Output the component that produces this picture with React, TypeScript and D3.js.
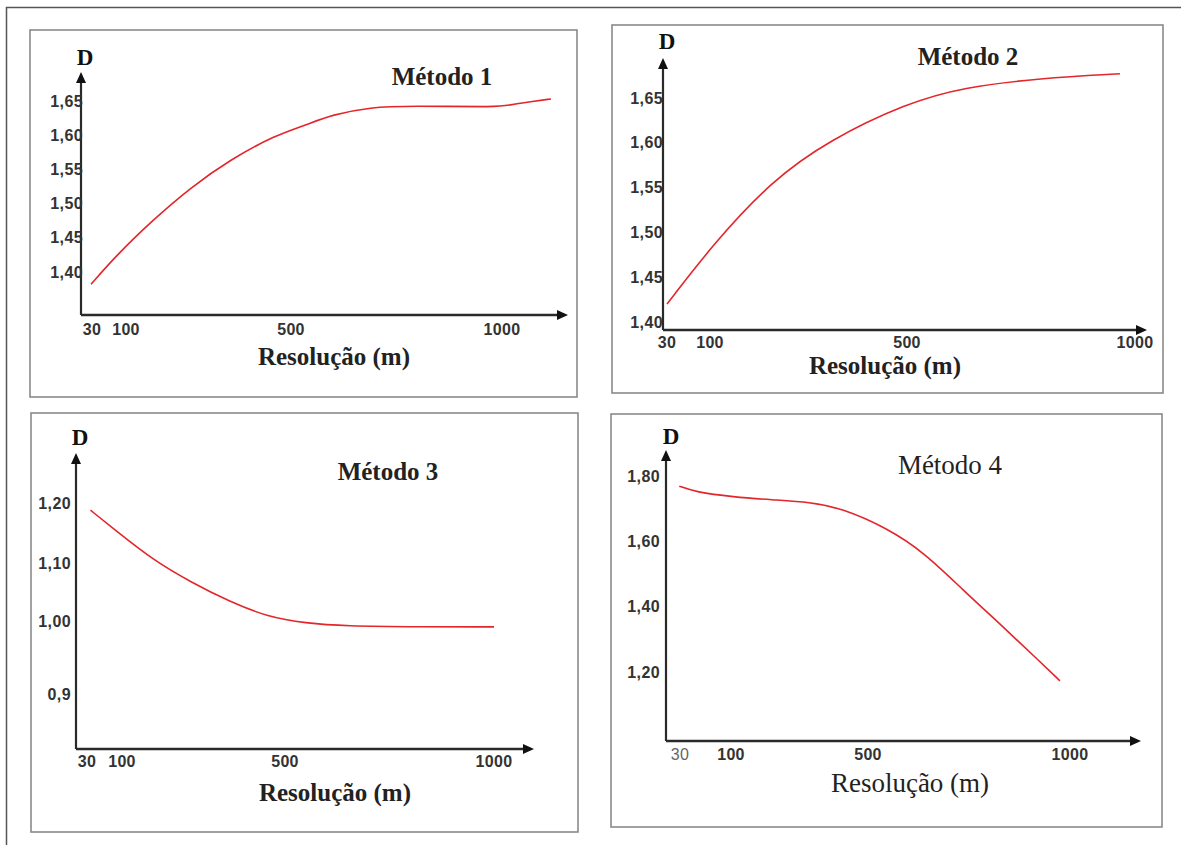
import React from "react";
import * as d3 from "d3";

// x axis: resolution in metres (same ticks on every panel)
const resTicks = [30, 100, 500, 1000];

// Método 1
const m1Res = [28, 77, 165, 258, 352, 462, 536, 597, 689, 779, 997, 1014, 1069, 1116];
const m1D = [1.382, 1.422, 1.476, 1.524, 1.564, 1.6, 1.615, 1.63, 1.641, 1.643, 1.641, 1.644, 1.649, 1.653];
const m1Ticks = [1.4, 1.45, 1.5, 1.55, 1.6, 1.65];
const m1Labels = ["1,40", "1,45", "1,50", "1,55", "1,60", "1,65"];

// Método 2
const m2Res = [30, 108, 226, 342, 498, 623, 792, 967];
const m2D = [1.42, 1.488, 1.558, 1.603, 1.644, 1.662, 1.672, 1.677];
const m2Ticks = [1.4, 1.45, 1.5, 1.55, 1.6, 1.65];
const m2Labels = ["1,40", "1,45", "1,50", "1,55", "1,60", "1,65"];

// Método 3
const m3Res = [37, 86, 176, 269, 365, 458, 550, 641, 825, 1000];
const m3D = [1.188, 1.155, 1.105, 1.067, 1.033, 1.007, 0.997, 0.993, 0.992, 0.992];
const m3Ticks = [0.9, 1.0, 1.1, 1.2];
const m3Labels = ["0,9", "1,00", "1,10", "1,20"];

// Método 4
const m4Res = [29, 51, 106, 220, 331, 421, 547, 641, 735, 832, 926, 975];
const m4D = [1.769, 1.751, 1.736, 1.727, 1.72, 1.702, 1.641, 1.564, 1.451, 1.341, 1.231, 1.173];
const m4Ticks = [1.2, 1.4, 1.6, 1.8];
const m4Labels = ["1,20", "1,40", "1,60", "1,80"];

const serif = "'Liberation Serif', 'Times New Roman', serif";
const sans = "'Liberation Sans', Arial, sans-serif";

// layout of each panel (pixels)
const panels = [
  {
    title: "Método 1", res: m1Res, d: m1D, ticks: m1Ticks, labels: m1Labels,
    box: [30, 30, 577, 397], ax: 81, ay: 315, top: 72, right: 568,
    yDomain: [1.4, 1.65], yRange: [272, 101], xRange: [92, 126, 291, 502],
    labelEnd: 83, dPos: [85, 65], titlePos: [442, 85], resPos: [334, 365], xLabY: 335,
    bold: true, light30: false,
  },
  {
    title: "Método 2", res: m2Res, d: m2D, ticks: m2Ticks, labels: m2Labels,
    box: [612, 25, 1163, 393], ax: 663, ay: 330, top: 58, right: 1147,
    yDomain: [1.4, 1.65], yRange: [322, 98], xRange: [667, 710, 907, 1135],
    labelEnd: 663, dPos: [667, 49], titlePos: [968, 65], resPos: [885, 374], xLabY: 348,
    bold: true, light30: false,
  },
  {
    title: "Método 3", res: m3Res, d: m3D, ticks: m3Ticks, labels: m3Labels,
    box: [31, 413, 578, 832], ax: 76, ay: 749, top: 453, right: 534,
    yDomain: [0.9, 1.0, 1.1, 1.2], yRange: [694, 621, 563, 503], xRange: [87, 122, 285, 494],
    labelEnd: 71, dPos: [80, 445], titlePos: [388, 480], resPos: [335, 801], xLabY: 767,
    bold: true, light30: false,
  },
  {
    title: "Método 4", res: m4Res, d: m4D, ticks: m4Ticks, labels: m4Labels,
    box: [611, 414, 1162, 827], ax: 666, ay: 741, top: 450, right: 1141,
    yDomain: [1.2, 1.8], yRange: [672, 476], xRange: [680, 731, 868, 1070],
    labelEnd: 660, dPos: [671, 444], titlePos: [950, 474], resPos: [910, 792], xLabY: 760,
    bold: false, light30: true,
  },
];

const Panel = ({ p }: { p: any }) => {
  const x = d3.scaleLinear().domain(resTicks).range(p.xRange);
  const y = d3.scaleLinear().domain(p.yDomain).range(p.yRange);
  const line = d3
    .line<number>()
    .x((_, i) => x(p.res[i]))
    .y((v) => y(v))
    .curve(d3.curveBasis);
  const [x0, y0, x1, y1] = p.box;
  const weight = p.bold ? "bold" : "normal";
  const big = p.bold ? 25 : 27;

  return (
    <g>
      <rect x={x0} y={y0} width={x1 - x0} height={y1 - y0} fill="white" stroke="#8a8a8a" strokeWidth={1.6} />
      {/* axes with arrow heads */}
      <line x1={p.ax} y1={p.ay} x2={p.ax} y2={p.top + 8} stroke="#2a2a2a" strokeWidth={2.2} />
      <line x1={p.ax} y1={p.ay} x2={p.right - 8} y2={p.ay} stroke="#2a2a2a" strokeWidth={2.4} />
      <path d={`M${p.ax},${p.top} L${p.ax - 5},${p.top + 11} L${p.ax + 5},${p.top + 11} Z`} fill="#111" />
      <path d={`M${p.right},${p.ay} L${p.right - 11},${p.ay - 5} L${p.right - 11},${p.ay + 5} Z`} fill="#111" />
      <text x={p.dPos[0]} y={p.dPos[1]} textAnchor="middle" fontFamily={serif} fontWeight="bold" fontSize={23} fill="#111">D</text>
      {/* y tick labels */}
      {p.ticks.map((t: number, i: number) => (
        <text key={t} x={p.labelEnd} y={y(t)} dy="0.35em" textAnchor="end" fontFamily={sans} fontWeight="bold"
          fontSize={16} letterSpacing={0.4} fill="#333">{p.labels[i]}</text>
      ))}
      {/* x tick labels */}
      {resTicks.map((t) => (
        <text key={t} x={x(t)} y={p.xLabY} textAnchor="middle" fontFamily={sans}
          fontWeight={p.light30 && t === 30 ? "normal" : "bold"} fontSize={16} letterSpacing={0.3}
          fill={p.light30 && t === 30 ? "#666" : "#333"}>{t}</text>
      ))}
      <path d={line(p.d) || ""} fill="none" stroke="#e3262b" strokeWidth={1.6} />
      <text x={p.titlePos[0]} y={p.titlePos[1]} textAnchor="middle" fontFamily={serif} fontWeight={weight}
        fontSize={big} fill="#222">{p.title}</text>
      <text x={p.resPos[0]} y={p.resPos[1]} textAnchor="middle" fontFamily={serif} fontWeight={weight}
        fontSize={big} fill="#222">Resolução (m)</text>
    </g>
  );
};

const App = () => {
  return (
    <svg width={1181} height={845} style={{ position: "absolute", left: 0, top: 0, background: "white" }}>
      <rect x={6.5} y={7.5} width={1190} height={850} fill="white" stroke="#555" strokeWidth={1.5} />
      {panels.map((p) => (
        <Panel key={p.title} p={p} />
      ))}
    </svg>
  );
};

export default App;
